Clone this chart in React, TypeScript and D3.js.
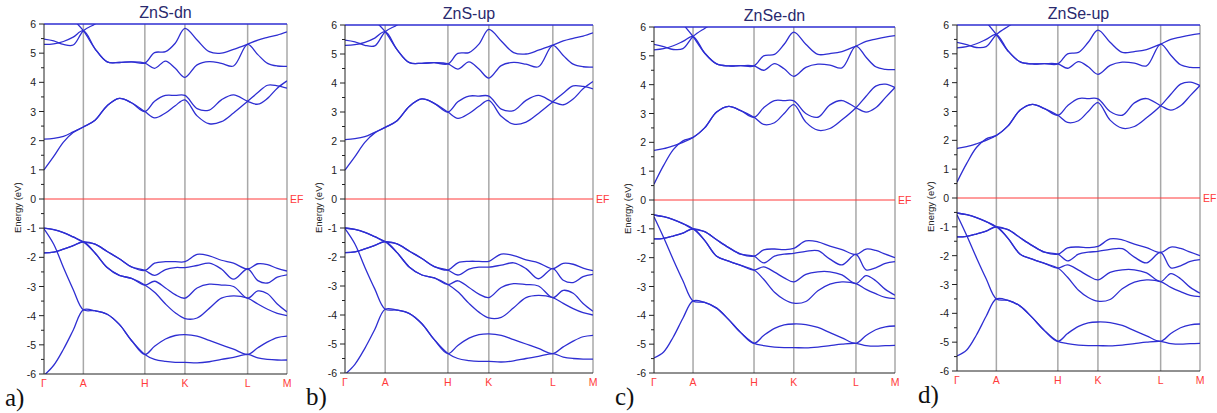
import React from "react";
import * as d3 from "d3";

// high-symmetry points along the path
const kLabels = ["Γ", "A", "H", "K", "L", "M"];
const kTicks = [0, 0.162, 0.415, 0.58, 0.838, 1];
// k positions where band energies were sampled
const kGrid = [0, 0.04, 0.08, 0.12, 0.162, 0.21, 0.26, 0.31, 0.36, 0.415, 0.455, 0.5, 0.54, 0.58, 0.63, 0.68, 0.73, 0.78, 0.838, 0.88, 0.92, 0.96, 1];
const yTicks = [-6, -5, -4, -3, -2, -1, 0, 1, 2, 3, 4, 5, 6];
const titles = ["ZnS-dn", "ZnS-up", "ZnSe-dn", "ZnSe-up"];
const letters = ["a)", "b)", "c)", "d)"];

const N = null;

// ZnS bands (eV)
const znsC1 = [1.0, 1.46, 1.95, 2.28, 2.47, 2.7, 3.2, 3.45, 3.3, 3.0, 2.78, 2.95, 3.2, 3.4, 2.85, 2.58, 2.65, 2.95, 3.35, 3.65, 3.9, 3.88, 3.8];
const znsC2 = [2.05, 2.08, 2.15, 2.3, 2.47, 2.7, 3.2, 3.45, 3.3, 3.0, 3.35, 3.55, 3.55, 3.55, 3.1, 3.05, 3.4, 3.57, 3.35, 3.25, 3.45, 3.8, 4.05];
const znsU1 = [5.3, 5.32, 5.4, 5.55, 5.77, 5.15, 4.7, 4.68, 4.7, 4.66, 4.48, 4.73, 4.48, 4.17, 4.6, 4.71, 4.65, 4.56, 5.3, 4.95, 4.65, 4.56, 4.55];
const znsU2 = [5.48, 5.42, 5.3, 5.28, 5.77, 6.0, 6.3, N, N, N, N, N, N, N, N, N, N, N, N, N, N, N, N];
const znsU3 = [N, N, N, 6.15, 5.77, 5.15, 4.7, 4.68, 4.7, 4.66, 5.02, 5.05, 5.34, 5.85, 5.45, 5.05, 5.0, 5.13, 5.31, 5.45, 5.54, 5.62, 5.73];
const znsV1 = [-1.0, -1.05, -1.15, -1.3, -1.47, -1.55, -1.8, -2.05, -2.33, -2.45, -2.2, -2.15, -2.15, -2.15, -1.9, -1.95, -2.1, -2.2, -2.4, -2.22, -2.25, -2.38, -2.47];
const znsV2 = [-1.85, -1.82, -1.72, -1.6, -1.47, -1.55, -1.8, -2.05, -2.33, -2.45, -2.62, -2.42, -2.35, -2.35, -2.28, -2.2, -2.4, -2.75, -2.4, -2.8, -2.88, -2.68, -2.6];
const znsV3 = [-1.0, -1.05, -1.15, -1.3, -1.47, -1.85, -2.35, -2.62, -2.72, -2.95, -2.82, -3.05, -3.28, -3.4, -3.05, -2.92, -2.95, -3.0, -3.4, -3.15, -3.25, -3.6, -3.87];
const znsV4 = [-1.85, -1.82, -1.72, -1.6, -1.47, -1.85, -2.35, -2.62, -2.72, -2.95, -3.2, -3.6, -3.9, -4.1, -4.08, -3.75, -3.4, -3.32, -3.4, -3.6, -3.78, -3.92, -4.0];
const znsV5 = [-1.02, -1.55, -2.35, -3.1, -3.8, -3.83, -3.95, -4.3, -4.85, -5.33, -5.5, -5.57, -5.6, -5.6, -5.62, -5.58, -5.5, -5.43, -5.33, -5.45, -5.5, -5.52, -5.52];
const znsV6 = [-6.05, -5.7, -5.15, -4.5, -3.8, -3.83, -3.95, -4.3, -4.85, -5.33, -5.05, -4.8, -4.68, -4.65, -4.7, -4.85, -5.0, -5.15, -5.33, -5.1, -4.9, -4.75, -4.7];

// ZnSe bands (eV)
const znseC1 = [0.55, 1.2, 1.75, 2.05, 2.17, 2.5, 3.05, 3.25, 3.1, 2.87, 2.62, 2.68, 3.0, 3.31, 2.7, 2.42, 2.48, 2.78, 3.2, 3.6, 3.95, 4.02, 3.9];
const znseC2 = [1.72, 1.78, 1.88, 2.0, 2.17, 2.5, 3.05, 3.25, 3.1, 2.87, 3.2, 3.45, 3.45, 3.44, 3.0, 2.87, 3.3, 3.45, 3.2, 3.05, 3.2, 3.55, 3.9];
const znseU1 = [5.21, 5.25, 5.35, 5.5, 5.67, 5.1, 4.72, 4.65, 4.66, 4.65, 4.5, 4.73, 4.55, 4.29, 4.6, 4.71, 4.68, 4.58, 5.34, 4.95, 4.62, 4.53, 4.52];
const znseU2 = [5.4, 5.32, 5.22, 5.25, 5.67, 5.95, 6.2, N, N, N, N, N, N, N, N, N, N, N, N, N, N, N, N];
const znseU3 = [N, N, N, 6.1, 5.67, 5.1, 4.72, 4.65, 4.66, 4.65, 5.0, 5.05, 5.4, 5.82, 5.4, 5.05, 5.08, 5.15, 5.34, 5.5, 5.58, 5.65, 5.7];
const znseV1 = [-0.52, -0.58, -0.68, -0.82, -1.0, -1.1, -1.38, -1.65, -1.88, -1.95, -1.73, -1.7, -1.72, -1.68, -1.42, -1.45, -1.6, -1.72, -1.89, -1.7, -1.75, -1.88, -2.0];
const znseV2 = [-1.35, -1.33, -1.25, -1.15, -1.0, -1.1, -1.38, -1.65, -1.88, -1.95, -2.18, -1.95, -1.88, -1.85, -1.78, -1.76, -2.05, -2.25, -1.89, -2.42, -2.35, -2.2, -2.14];
const znseV3 = [-0.52, -0.58, -0.68, -0.82, -1.0, -1.4, -1.95, -2.12, -2.27, -2.43, -2.32, -2.5, -2.7, -2.84, -2.58, -2.49, -2.49, -2.6, -2.9, -2.62, -2.8, -3.1, -3.3];
const znseV4 = [-1.35, -1.33, -1.25, -1.15, -1.0, -1.4, -1.95, -2.12, -2.27, -2.43, -2.75, -3.2, -3.45, -3.58, -3.52, -3.15, -2.92, -2.84, -2.9, -3.1, -3.25, -3.38, -3.42];
const znseV5 = [-0.58, -1.3, -2.07, -2.8, -3.5, -3.55, -3.75, -4.15, -4.6, -4.97, -5.05, -5.1, -5.12, -5.12, -5.13, -5.1, -5.05, -5.0, -4.97, -5.05, -5.07, -5.05, -5.04];
const znseV6 = [-5.48, -5.27, -4.75, -4.1, -3.5, -3.55, -3.75, -4.15, -4.6, -4.97, -4.7, -4.45, -4.33, -4.3, -4.32, -4.42, -4.6, -4.78, -4.97, -4.7, -4.5, -4.4, -4.37];

const znsBands = [znsC1, znsC2, znsU1, znsU2, znsU3, znsV1, znsV2, znsV3, znsV4, znsV5, znsV6];
const znseBands = [znseC1, znseC2, znseU1, znseU2, znseU3, znseV1, znseV2, znseV3, znseV4, znseV5, znseV6];
const panelBands = [znsBands, znsBands, znseBands, znseBands];

// plot boxes in page pixels
const boxes = [
  { left: 44, right: 287, top: 24, bottom: 374 },
  { left: 345, right: 593, top: 25, bottom: 373 },
  { left: 654, right: 895, top: 27, bottom: 373 },
  { left: 957, right: 1200, top: 25, bottom: 371 },
];

const FONT = "'Liberation Sans', Arial, sans-serif";
const BLUE = "#2e2ed2";
const RED = "#ff3b3b";

function Panel({ i }: { i: number }) {
  const b = boxes[i];
  const x = d3.scaleLinear().domain([0, 1]).range([b.left, b.right]);
  const y = d3.scaleLinear().domain([-6, 6]).range([b.bottom, b.top]);
  const line = d3
    .line<number | null>()
    .defined((d) => d !== null)
    .x((_, j) => x(kGrid[j]))
    .y((d) => y(d as number))
    .curve(d3.curveCatmullRom.alpha(0.5));
  const minor = d3.range(-5.5, 6, 1);
  const clipId = `clip${i}`;
  return (
    <g>
      <defs>
        <clipPath id={clipId}>
          <rect x={b.left} y={b.top} width={b.right - b.left} height={b.bottom - b.top} />
        </clipPath>
      </defs>
      {kTicks.slice(1).map((k) => (
        <line key={k} x1={x(k)} x2={x(k)} y1={b.top} y2={b.bottom} stroke="#a8a8a8" strokeWidth={1.5} />
      ))}
      <line x1={b.left} x2={b.right} y1={y(0)} y2={y(0)} stroke={RED} strokeWidth={1} />
      <text x={b.right + 3} y={y(0) + 4} fill={RED} fontSize={10.5} fontFamily={FONT}>EF</text>
      <g clipPath={`url(#${clipId})`}>
        {panelBands[i].map((band, j) => (
          <path key={j} d={line(band) || ""} fill="none" stroke={BLUE} strokeWidth={1.3} />
        ))}
      </g>
      <line x1={b.left} x2={b.right} y1={b.top} y2={b.top} stroke={BLUE} strokeWidth={1.6} />
      <line x1={b.left} x2={b.left} y1={b.top} y2={b.bottom} stroke="#222" strokeWidth={1} />
      <line x1={b.left} x2={b.right} y1={b.bottom} y2={b.bottom} stroke="#222" strokeWidth={1} />
      {yTicks.map((t) => (
        <g key={t}>
          <line x1={b.left - 5} x2={b.left} y1={y(t)} y2={y(t)} stroke="#222" strokeWidth={1} />
          <text x={b.left - 8} y={y(t) + 4} textAnchor="end" fontSize={10.5} fontFamily={FONT} fill="#222">{t}</text>
        </g>
      ))}
      {minor.map((t) => (
        <line key={t} x1={b.left - 3} x2={b.left} y1={y(t)} y2={y(t)} stroke="#222" strokeWidth={1} />
      ))}
      {kTicks.map((k, j) => (
        <text key={k} x={x(k)} y={b.bottom + 13} textAnchor="middle" fontSize={10.5} fontFamily={FONT} fill={RED}>{kLabels[j]}</text>
      ))}
      <text
        transform={`translate(${b.left - 23},${y(-0.3)}) rotate(-90)`}
        textAnchor="middle"
        fontSize={9.5}
        fontFamily={FONT}
        fill="#222"
      >
        Energy (eV)
      </text>
      <text x={(b.left + b.right) / 2} y={b.top - 6} textAnchor="middle" fontSize={16} fontFamily={FONT} fill="#2a2a6e">{titles[i]}</text>
      <text x={b.left - 39} y={b.bottom + 32} fontSize={25} fontFamily="'Liberation Serif', 'Times New Roman', serif" fill="#111">{letters[i]}</text>
    </g>
  );
}

export default function App() {
  return (
    <svg width={1217} height={413} style={{ position: "absolute", left: 0, top: 0, background: "#fff" }}>
      <rect width={1217} height={413} fill="#fff" />
      {boxes.map((_, i) => (
        <Panel key={i} i={i} />
      ))}
    </svg>
  );
}
